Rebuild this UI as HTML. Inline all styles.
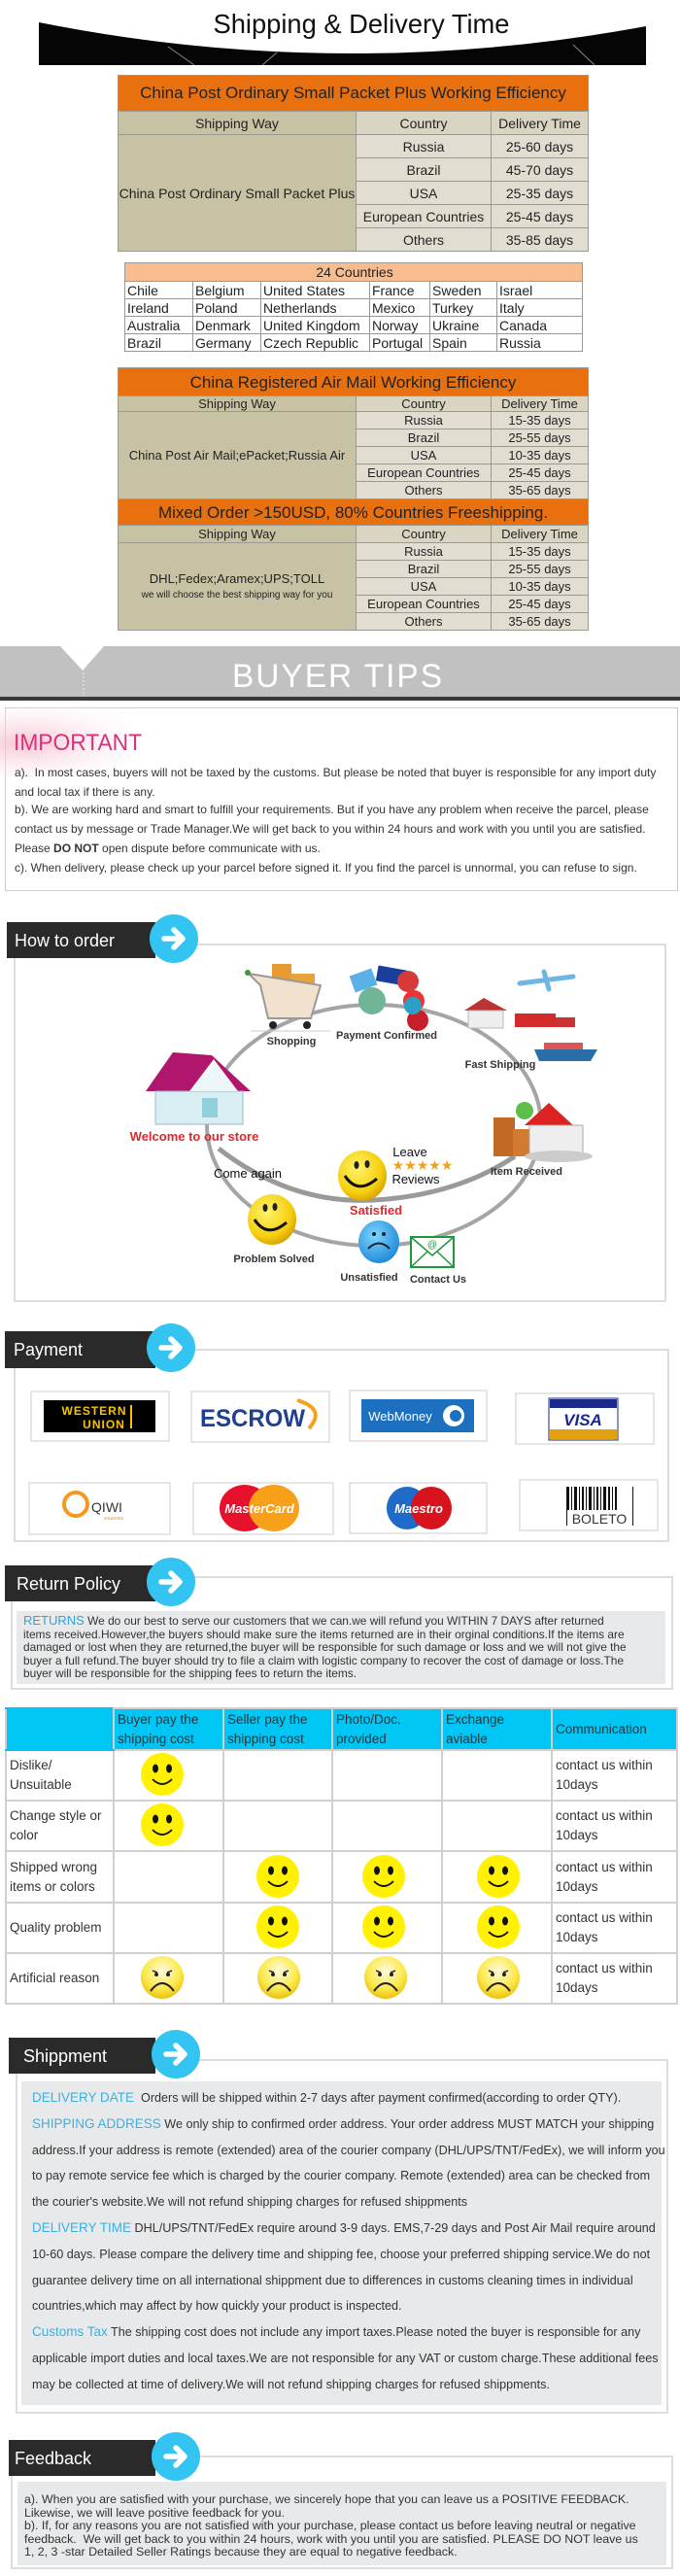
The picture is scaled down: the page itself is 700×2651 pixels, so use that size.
<!DOCTYPE html>
<html><head><meta charset="utf-8">
<style>
body{margin:0;background:#fff;}
#pg{position:relative;width:700px;height:2651px;overflow:hidden;background:#fff;font-family:"Liberation Sans",Arial,sans-serif;color:#222;}
.l{position:absolute;white-space:nowrap;line-height:14px;}
table.t{position:absolute;border-collapse:collapse;table-layout:fixed;font-family:"Liberation Sans",sans-serif;color:#222;}
table.t td{border:1px solid #9a9a90;padding:0;text-align:center;overflow:hidden;white-space:nowrap;}
.or{background:#E8700E;color:#222;}
.sw{background:#C8C2A5;}
.cc{background:#E1DED1;}
.hd{background:#D9D5C2;}
table.c td{border:1px solid #999;text-align:left;padding-left:2px;font-size:14px;}
table.r{position:absolute;border-collapse:collapse;table-layout:fixed;font-family:"Liberation Sans",sans-serif;color:#333;}
table.r td{border:2px solid #d0d0d0;padding:0 0 0 3px;font-size:13.5px;line-height:20px;vertical-align:middle;}
svg{position:absolute;left:0;top:0;}
</style></head><body><div id="pg">

<div style="position:absolute;left:5px;top:728px;width:691px;height:187px;border:1px solid #ccc;"></div>
<div style="position:absolute;left:17px;top:1658px;width:668px;height:75px;background:#e8e9ea;"></div>
<div style="position:absolute;left:22px;top:2142px;width:659px;height:333px;background:#e8e9ea;"></div>
<div style="position:absolute;left:18px;top:2554px;width:668px;height:86px;background:#e8e9ea;"></div>

<table class="t" style="left:121px;top:77px;width:484px;font-size:14px;">
<colgroup><col style="width:245px"><col style="width:139px"><col style="width:100px"></colgroup>
<tr style="height:37px"><td colspan="3" class="or" style="font-size:17px;">China Post Ordinary Small Packet Plus Working Efficiency</td></tr>
<tr style="height:24px"><td class="sw">Shipping Way</td><td class="hd">Country</td><td class="hd">Delivery Time</td></tr>
<tr style="height:24px"><td rowspan="5" class="sw">China Post Ordinary Small Packet Plus</td><td class="cc">Russia</td><td class="cc">25-60 days</td></tr>
<tr style="height:24px"><td class="cc">Brazil</td><td class="cc">45-70 days</td></tr>
<tr style="height:24px"><td class="cc">USA</td><td class="cc">25-35 days</td></tr>
<tr style="height:24px"><td class="cc">European Countries</td><td class="cc">25-45 days</td></tr>
<tr style="height:24px"><td class="cc">Others</td><td class="cc">35-85 days</td></tr>
</table>

<table class="t c" style="left:128px;top:270px;width:471px;">
<colgroup><col style="width:70px"><col style="width:70px"><col style="width:112px"><col style="width:62px"><col style="width:69px"><col style="width:88px"></colgroup>
<tr style="height:19px"><td colspan="6" style="background:#F9BC8E;text-align:center;">24 Countries</td></tr>
<tr style="height:18px"><td>Chile</td><td>Belgium</td><td>United States</td><td>France</td><td>Sweden</td><td>Israel</td></tr>
<tr style="height:18px"><td>Ireland</td><td>Poland</td><td>Netherlands</td><td>Mexico</td><td>Turkey</td><td>Italy</td></tr>
<tr style="height:18px"><td>Australia</td><td>Denmark</td><td>United Kingdom</td><td>Norway</td><td>Ukraine</td><td>Canada</td></tr>
<tr style="height:18px"><td>Brazil</td><td>Germany</td><td>Czech Republic</td><td>Portugal</td><td>Spain</td><td>Russia</td></tr>
</table>

<table class="t" style="left:121px;top:378px;width:484px;font-size:13px;line-height:15px;">
<colgroup><col style="width:245px"><col style="width:139px"><col style="width:100px"></colgroup>
<tr style="height:29px"><td colspan="3" class="or" style="font-size:17px;">China Registered Air Mail Working Efficiency</td></tr>
<tr style="height:16px"><td class="sw">Shipping Way</td><td class="hd">Country</td><td class="hd">Delivery Time</td></tr>
<tr style="height:18px"><td rowspan="5" class="sw">China Post Air Mail;ePacket;Russia Air</td><td class="cc">Russia</td><td class="cc">15-35 days</td></tr>
<tr style="height:18px"><td class="cc">Brazil</td><td class="cc">25-55 days</td></tr>
<tr style="height:18px"><td class="cc">USA</td><td class="cc">10-35 days</td></tr>
<tr style="height:18px"><td class="cc">European Countries</td><td class="cc">25-45 days</td></tr>
<tr style="height:18px"><td class="cc">Others</td><td class="cc">35-65 days</td></tr>
<tr style="height:27px"><td colspan="3" class="or" style="font-size:17px;">Mixed Order &gt;150USD, 80% Countries Freeshipping.</td></tr>
<tr style="height:18px"><td class="sw">Shipping Way</td><td class="hd">Country</td><td class="hd">Delivery Time</td></tr>
<tr style="height:18px"><td rowspan="5" class="sw">DHL;Fedex;Aramex;UPS;TOLL<br><span style="font-size:10px;">we will choose the best shipping way for you</span></td><td class="cc">Russia</td><td class="cc">15-35 days</td></tr>
<tr style="height:18px"><td class="cc">Brazil</td><td class="cc">25-55 days</td></tr>
<tr style="height:18px"><td class="cc">USA</td><td class="cc">10-35 days</td></tr>
<tr style="height:18px"><td class="cc">European Countries</td><td class="cc">25-45 days</td></tr>
<tr style="height:18px"><td class="cc">Others</td><td class="cc">35-65 days</td></tr>
</table>

<table class="r" style="left:5px;top:1757px;width:691px;">
<colgroup><col style="width:111px"><col style="width:113px"><col style="width:112px"><col style="width:113px"><col style="width:113px"><col style="width:129px"></colgroup>
<tr style="height:43px;background:#00C6F5;"><td style="border-color:#00C6F5 #d0d0d0;"></td><td>Buyer pay the<br>shipping cost</td><td>Seller pay the<br>shipping cost</td><td>Photo/Doc.<br>provided</td><td>Exchange<br>aviable</td><td>Communication</td></tr>
<tr style="height:52px"><td>Dislike/<br>Unsuitable</td><td></td><td></td><td></td><td></td><td>contact us within<br>10days</td></tr>
<tr style="height:52px"><td>Change style or<br>color</td><td></td><td></td><td></td><td></td><td>contact us within<br>10days</td></tr>
<tr style="height:53px"><td>Shipped wrong<br>items or colors</td><td></td><td></td><td></td><td></td><td>contact us within<br>10days</td></tr>
<tr style="height:52px"><td>Quality problem</td><td></td><td></td><td></td><td></td><td>contact us within<br>10days</td></tr>
<tr style="height:52px"><td>Artificial reason</td><td></td><td></td><td></td><td></td><td>contact us within<br>10days</td></tr>
</table>

<svg width="700" height="2651" viewBox="0 0 700 2651" xmlns="http://www.w3.org/2000/svg" font-family="Liberation Sans, Arial, sans-serif">
<defs>
<radialGradient id="glow" cx="0.3" cy="0.5" r="0.6"><stop offset="0" stop-color="#f5b8c8" stop-opacity=".8"/><stop offset="1" stop-color="#fff" stop-opacity="0"/></radialGradient>
<radialGradient id="ys" cx="0.4" cy="0.35" r="0.7"><stop offset="0" stop-color="#fff36a"/><stop offset=".7" stop-color="#f5cf10"/><stop offset="1" stop-color="#d69a00"/></radialGradient>
<radialGradient id="sad" cx="0.5" cy="0.35" r="0.7"><stop offset="0" stop-color="#fffbe0"/><stop offset=".6" stop-color="#fbe94a"/><stop offset="1" stop-color="#e8b800"/></radialGradient>
<radialGradient id="bs" cx="0.4" cy="0.35" r="0.7"><stop offset="0" stop-color="#7fd6ff"/><stop offset="1" stop-color="#1c86d6"/></radialGradient>
<g id="arr"><circle r="25" fill="#33C4F2"/><path d="M-10 0 L8 0 M0 -9 L9 0 L0 9" stroke="#fff" stroke-width="5.5" fill="none" stroke-linecap="round" stroke-linejoin="round"/></g>
<g id="hap"><ellipse rx="22" ry="22" fill="#FFF100"/><ellipse cx="-7" cy="-6" rx="3" ry="4.5" fill="#111"/><ellipse cx="7" cy="-6" rx="3" ry="4.5" fill="#111"/><path d="M-10 5 Q0 15 10 5" stroke="#111" stroke-width="1.8" fill="none"/></g>
<g id="sd"><ellipse rx="22" ry="22" fill="url(#sad)"/><path d="M-10 -7 l5 2 M10 -7 l-5 2" stroke="#333" stroke-width="1.5"/><circle cx="-6" cy="-3" r="2" fill="#222"/><circle cx="6" cy="-3" r="2" fill="#222"/><path d="M-12 14 Q0 -2 12 14" stroke="#222" stroke-width="2" fill="none"/></g>
</defs>

<path d="M40 23 Q352 85 665 27 L665 67 L40 67 Z" fill="#050505"/>
<path d="M173 48 L200 67 M285 54 L270 67 M590 46 L612 67" stroke="#888" stroke-width="1"/>
<text x="372" y="34" font-size="28" text-anchor="middle" fill="#111" textLength="305" lengthAdjust="spacingAndGlyphs">Shipping &amp; Delivery Time</text>

<rect x="0" y="665" width="700" height="53" fill="#c1c1c1"/>
<path d="M62 665 L107 665 L85 690 Z" fill="#fff"/>
<line x1="86" y1="692" x2="86" y2="718" stroke="#eee" stroke-dasharray="2,2"/>
<rect x="0" y="717" width="700" height="4" fill="#3a3a3a"/>
<text x="348" y="707" font-size="34" fill="#fff" text-anchor="middle" letter-spacing="2" textLength="218" lengthAdjust="spacingAndGlyphs">BUYER TIPS</text>

<ellipse cx="75" cy="765" rx="120" ry="42" fill="url(#glow)"/>
<text x="14" y="772" font-size="24" fill="#D6337C" textLength="132" lengthAdjust="spacingAndGlyphs">IMPORTANT</text>

<path d="M200 972 L685 972 L685 1339 L15 1339 L15 986" stroke="#ddd" stroke-width="2" fill="none"/>
<rect x="7" y="949" width="153" height="37" fill="#2a2a2a"/>
<text x="15" y="974" font-size="18" fill="#fff">How to order</text>
<use href="#arr" x="179" y="966"/>

<ellipse cx="385" cy="1158" rx="172" ry="124" stroke="#a5a5a5" stroke-width="4" fill="none"/>
<path d="M225 1182 Q300 1240 385 1235 Q470 1230 530 1190" stroke="#9a9a9a" stroke-width="5" fill="none"/>
<rect x="280" y="992" width="20" height="18" fill="#E69A30"/><rect x="298" y="1002" width="26" height="14" fill="#E8A23B"/>
<path d="M256 1002 L268 1014 L276 1048 L320 1048 L330 1014 Z" fill="#f1e2d0" stroke="#999" stroke-width="2"/>
<circle cx="255" cy="1001" r="3" fill="#3a9a3a"/>
<circle cx="281" cy="1055" r="4" fill="#222"/><circle cx="316" cy="1055" r="4" fill="#222"/>
<line x1="258" y1="1061" x2="340" y2="1061" stroke="#ccc"/>
<text x="300" y="1075" font-size="11" font-weight="bold" text-anchor="middle" fill="#333">Shopping</text>
<rect x="362" y="1000" width="24" height="18" fill="#5bb0e8" transform="rotate(-20 374 1009)"/>
<rect x="388" y="996" width="30" height="16" fill="#1a3f9a" transform="rotate(10 403 1004)"/>
<circle cx="383" cy="1030" r="14" fill="#6fb596"/>
<circle cx="420" cy="1010" r="11" fill="#d83a3a"/><circle cx="426" cy="1030" r="11" fill="#e33"/><circle cx="430" cy="1050" r="11" fill="#c81e2c"/><circle cx="425" cy="1035" r="9" fill="#2aa0c8"/>
<text x="398" y="1069" font-size="11" font-weight="bold" text-anchor="middle" fill="#333">Payment Confirmed</text>
<path d="M478 1040 L498 1027 L522 1040 Z" fill="#b33"/><rect x="482" y="1040" width="36" height="18" fill="#eee" stroke="#bbb"/>
<path d="M535 1012 L590 1005 M560 1000 L565 1018" stroke="#6cb7e6" stroke-width="5" stroke-linecap="round"/>
<rect x="530" y="1043" width="42" height="14" fill="#d32a2a"/><rect x="572" y="1047" width="20" height="10" fill="#c33"/>
<path d="M550 1080 L615 1080 L608 1092 L555 1092 Z" fill="#2b6fa8"/><rect x="560" y="1073" width="40" height="7" fill="#d55"/>
<text x="515" y="1099" font-size="11" font-weight="bold" text-anchor="middle" fill="#333">Fast Shipping</text>
<path d="M150 1123 L178 1083 L218 1086 L258 1123 Z" fill="#b0166b"/>
<rect x="160" y="1123" width="90" height="34" fill="#d8eef2" stroke="#9bc" />
<path d="M195 1123 L220 1090 L245 1123 Z" fill="#eef7f8"/>
<rect x="208" y="1130" width="16" height="20" fill="#8fd0dc"/>
<text x="200" y="1174" font-size="13" font-weight="bold" text-anchor="middle" fill="#e0262c">Welcome to our store</text>
<rect x="508" y="1150" width="22" height="40" fill="#c06a25"/><rect x="528" y="1162" width="18" height="28" fill="#d27a30"/>
<circle cx="540" cy="1143" r="9" fill="#5bbf4a"/>
<path d="M540 1158 L565 1135 L590 1158 Z" fill="#d22"/><rect x="545" y="1158" width="55" height="30" fill="#eee" stroke="#aaa"/>
<ellipse cx="575" cy="1190" rx="35" ry="6" fill="#ccc"/>
<text x="542" y="1209" font-size="11" font-weight="bold" text-anchor="middle" fill="#333">Item Received</text>
<text x="422" y="1190" font-size="13" fill="#111" text-anchor="middle">Leave</text>
<text x="435" y="1204" font-size="14" fill="#f0a020" text-anchor="middle">★★★★★</text>
<text x="428" y="1218" font-size="13" fill="#111" text-anchor="middle">Reviews</text>
<text x="255" y="1212" font-size="13" fill="#111" text-anchor="middle">Come again</text>
<g transform="translate(373 1210)"><ellipse rx="25" ry="26" fill="url(#ys)"/><ellipse cx="-6" cy="-11" rx="2.5" ry="4" fill="#222"/><ellipse cx="5" cy="-12" rx="2.5" ry="4" fill="#222"/><path d="M-18 0 Q-5 20 15 3" stroke="#111" stroke-width="3" fill="none"/></g>
<text x="387" y="1250" font-size="13" font-weight="bold" text-anchor="middle" fill="#e0262c">Satisfied</text>
<g transform="translate(280 1255)"><ellipse rx="25" ry="26" fill="url(#ys)"/><ellipse cx="-7" cy="-12" rx="2.5" ry="4" fill="#222"/><ellipse cx="3" cy="-13" rx="2.5" ry="4" fill="#222"/><path d="M-18 0 Q-5 20 15 3" stroke="#111" stroke-width="3" fill="none"/></g>
<text x="282" y="1299" font-size="11" font-weight="bold" text-anchor="middle" fill="#333">Problem Solved</text>
<g transform="translate(390 1278)"><ellipse rx="21" ry="22" fill="url(#bs)"/><circle cx="-5" cy="-8" r="2" fill="#123"/><circle cx="5" cy="-8" r="2" fill="#123"/><path d="M-11 7 Q0 -4 11 7" stroke="#123" stroke-width="2" fill="none"/></g>
<text x="380" y="1318" font-size="11" font-weight="bold" text-anchor="middle" fill="#333">Unsatisfied</text>
<rect x="423" y="1273" width="44" height="31" fill="#fff" stroke="#1a9a3a" stroke-width="2"/>
<path d="M423 1273 L445 1292 L467 1273 M423 1304 L440 1288 M467 1304 L450 1288" stroke="#1a9a3a" stroke-width="1.5" fill="none"/>
<text x="445" y="1284" font-size="10" fill="#1a9a3a" text-anchor="middle">@</text>
<text x="451" y="1320" font-size="11" font-weight="bold" text-anchor="middle" fill="#333">Contact Us</text>

<path d="M200 1389 L688 1389 L688 1586 L15 1586 L15 1408" stroke="#ddd" stroke-width="2" fill="none"/>
<rect x="5" y="1370" width="155" height="38" fill="#2a2a2a"/>
<text x="14" y="1395" font-size="18" fill="#fff">Payment</text>
<use href="#arr" x="176" y="1387"/>
<g stroke="#ddd" stroke-width="1.5" fill="#fff">
<rect x="32" y="1432" width="142" height="51"/><rect x="197" y="1432" width="142" height="52"/><rect x="360" y="1431" width="141" height="52"/><rect x="531" y="1434" width="142" height="52"/>
<rect x="30" y="1526" width="145" height="53"/><rect x="199" y="1526" width="144" height="53"/><rect x="360" y="1526" width="141" height="52"/><rect x="535" y="1523" width="142" height="52"/>
</g>
<rect x="45" y="1441" width="115" height="33" fill="#000"/>
<text x="97" y="1456" font-size="12" font-weight="bold" fill="#f5c400" text-anchor="middle" letter-spacing="1">WESTERN</text>
<text x="107" y="1470" font-size="12" font-weight="bold" fill="#f5c400" text-anchor="middle" letter-spacing="1">UNION</text>
<rect x="134" y="1446" width="2" height="24" fill="#f5c400"/>
<text x="260" y="1468" font-size="25" font-weight="bold" fill="#1F3F8F" text-anchor="middle" textLength="108" lengthAdjust="spacingAndGlyphs">ESCROW</text>
<path d="M306 1441 Q336 1450 318 1470" stroke="#F5A01E" stroke-width="4" fill="none"/>
<rect x="372" y="1440" width="116" height="34" fill="#1D6FC0"/>
<text x="412" y="1462" font-size="13" fill="#fff" text-anchor="middle">WebMoney</text>
<circle cx="467" cy="1457" r="11" fill="#fff"/><circle cx="469" cy="1457" r="6" fill="#1D6FC0"/>
<rect x="565" y="1439" width="71" height="43" fill="#fff" stroke="#1a2a7a"/>
<rect x="566" y="1440" width="69" height="9" fill="#1a2a8a"/><rect x="566" y="1471" width="69" height="10" fill="#E3A010"/>
<text x="600" y="1467" font-size="17" font-weight="bold" font-style="italic" fill="#1a2a8a" text-anchor="middle">VISA</text>
<circle cx="78" cy="1548" r="12" stroke="#F39A1E" stroke-width="4" fill="none"/>
<text x="110" y="1556" font-size="14" fill="#333" text-anchor="middle">QIWI</text>
<text x="117" y="1564" font-size="5" fill="#F39A1E" text-anchor="middle">кошелек</text>
<ellipse cx="252" cy="1552" rx="26" ry="24" fill="#E8112D"/><ellipse cx="282" cy="1552" rx="26" ry="24" fill="#F9A01A"/>
<text x="267" y="1557" font-size="13" font-weight="bold" font-style="italic" fill="#fff" text-anchor="middle">MasterCard</text>
<ellipse cx="419" cy="1552" rx="21" ry="22" fill="#1E6BC8"/><ellipse cx="444" cy="1552" rx="21" ry="22" fill="#D7141E"/>
<text x="431" y="1557" font-size="13" font-weight="bold" font-style="italic" fill="#fff" text-anchor="middle">Maestro</text>
<g fill="#111"><rect x="584" y="1530" width="2" height="24"/><rect x="588" y="1530" width="1" height="24"/><rect x="591" y="1530" width="3" height="24"/><rect x="596" y="1530" width="1" height="24"/><rect x="599" y="1530" width="2" height="24"/><rect x="603" y="1530" width="1" height="24"/><rect x="606" y="1530" width="3" height="24"/><rect x="611" y="1530" width="1" height="24"/><rect x="614" y="1530" width="2" height="24"/><rect x="618" y="1530" width="1" height="24"/><rect x="621" y="1530" width="3" height="24"/><rect x="626" y="1530" width="2" height="24"/><rect x="630" y="1530" width="1" height="24"/><rect x="633" y="1530" width="2" height="24"/><rect x="583" y="1530" width="1" height="40"/><rect x="651" y="1530" width="1" height="40"/></g>
<text x="617" y="1568" font-size="14" fill="#333" text-anchor="middle">BOLETO</text>

<path d="M200 1623 L692 1623 L692 1738 L12 1738 L12 1648" stroke="#ddd" stroke-width="2" fill="none"/>
<rect x="5" y="1611" width="155" height="37" fill="#2a2a2a"/>
<text x="17" y="1636" font-size="18" fill="#fff">Return Policy</text>
<use href="#arr" x="176" y="1628"/>

<use href="#hap" x="167" y="1826"/><use href="#hap" x="167" y="1878"/>
<use href="#hap" x="286" y="1931"/><use href="#hap" x="395" y="1931"/><use href="#hap" x="513" y="1931"/>
<use href="#hap" x="286" y="1983"/><use href="#hap" x="395" y="1983"/><use href="#hap" x="513" y="1983"/>
<use href="#sd" x="167" y="2035"/><use href="#sd" x="287" y="2035"/><use href="#sd" x="397" y="2035"/><use href="#sd" x="513" y="2035"/>

<path d="M205 2120 L687 2120 L687 2483 L17 2483 L17 2134" stroke="#ddd" stroke-width="2" fill="none"/>
<rect x="9" y="2097" width="151" height="37" fill="#2a2a2a"/>
<text x="24" y="2122" font-size="18" fill="#fff">Shippment</text>
<use href="#arr" x="181" y="2114"/>

<path d="M205 2528 L692 2528 L692 2643 L12 2643 L12 2548" stroke="#ddd" stroke-width="2" fill="none"/>
<rect x="9" y="2511" width="151" height="37" fill="#2a2a2a"/>
<text x="15" y="2536" font-size="18" fill="#fff">Feedback</text>
<use href="#arr" x="181" y="2528"/>
</svg>

<div class="l" style="left:15px;top:788px;font-size:12px;color:#333;">a).&nbsp; In most cases, buyers will not be taxed by the customs. But please be noted that buyer is responsible for any import duty</div>
<div class="l" style="left:15px;top:808px;font-size:12px;color:#333;">and local tax if there is any.</div>
<div class="l" style="left:15px;top:826px;font-size:12px;color:#333;">b). We are working hard and smart to fulfill your requirements. But if you have any problem when receive the parcel, please</div>
<div class="l" style="left:15px;top:846px;font-size:12px;color:#333;">contact us by message or Trade Manager.We will get back to you within 24 hours and work with you until you are satisfied.</div>
<div class="l" style="left:15px;top:866px;font-size:12px;color:#333;">Please <b>DO NOT</b> open dispute before communicate with us.</div>
<div class="l" style="left:15px;top:886px;font-size:12px;color:#333;">c). When delivery, please check up your parcel before signed it. If you find the parcel is unnormal, you can refuse to sign.</div>

<div class="l" style="left:24px;top:1661px;font-size:11.9px;color:#333;"><span style="color:#2BA6DE;font-size:13px;">RETURNS</span> We do our best to serve our customers that we can.we will refund you WITHIN 7 DAYS after returned</div>
<div class="l" style="left:24px;top:1675px;font-size:11.9px;color:#333;">items received.However,the buyers should make sure the items returned are in their orginal conditions.If the items are</div>
<div class="l" style="left:24px;top:1688px;font-size:11.9px;color:#333;">damaged or lost when they are returned,the buyer will be responsible for such damage or loss and we will not give the</div>
<div class="l" style="left:24px;top:1702px;font-size:11.9px;color:#333;">buyer a full refund.The buyer should try to file a claim with logistic company to recover the cost of damage or loss.The</div>
<div class="l" style="left:24px;top:1715px;font-size:11.9px;color:#333;">buyer will be responsible for the shipping fees to return the items.</div>

<div style="position:absolute;left:33px;top:2146px;font-size:12.6px;color:#333;line-height:26.8px;white-space:nowrap;">
<span style="color:#3BB0E0;font-size:13.5px;">DELIVERY DATE</span>&nbsp; Orders will be shipped within 2-7 days after payment confirmed(according to order QTY).<br>
<span style="color:#3BB0E0;font-size:13.5px;">SHIPPING ADDRESS</span> We only ship to confirmed order address. Your order address MUST MATCH your shipping<br>
address.If your address is remote (extended) area of the courier company (DHL/UPS/TNT/FedEx), we will inform you<br>
to pay remote service fee which is charged by the courier company. Remote (extended) area can be checked from<br>
the courier's website.We will not refund shipping charges for refused shippments<br>
<span style="color:#3BB0E0;font-size:13.5px;">DELIVERY TIME</span> DHL/UPS/TNT/FedEx require around 3-9 days. EMS,7-29 days and Post Air Mail require around<br>
10-60 days. Please compare the delivery time and shipping fee, choose your preferred shipping service.We do not<br>
guarantee delivery time on all international shippment due to differences in customs cleaning times in individual<br>
countries,which may affect by how quickly your product is inspected.<br>
<span style="color:#3BB0E0;font-size:13.5px;">Customs Tax</span> The shipping cost does not include any import taxes.Please noted the buyer is responsible for any<br>
applicable import duties and local taxes.We are not responsible for any VAT or custom charge.These additional fees<br>
may be collected at time of delivery.We will not refund shipping charges for refused shippments.
</div>

<div style="position:absolute;left:25px;top:2566px;font-size:12.4px;color:#333;line-height:13.5px;white-space:nowrap;">
a). When you are satisfied with your purchase, we sincerely hope that you can leave us a POSITIVE FEEDBACK.<br>
Likewise, we will leave positive feedback for you.<br>
b). If, for any reasons you are not satisfied with your purchase, please contact us before leaving neutral or negative<br>
feedback.&nbsp; We will get back to you within 24 hours, work with you until you are satisfied. PLEASE DO NOT leave us<br>
1, 2, 3 -star Detailed Seller Ratings because they are equal to negative feedback.
</div>

</div></body></html>
